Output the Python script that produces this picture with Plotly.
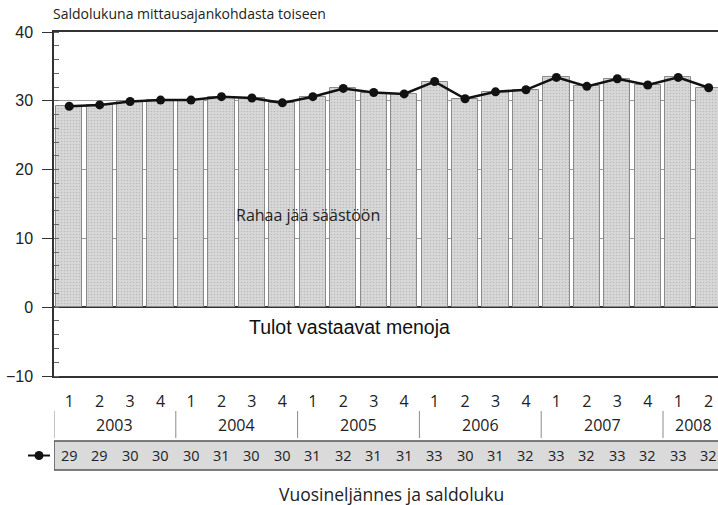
import plotly.graph_objects as go

# Quarterly balance figure (saldoluku), 2003 Q1 - 2008 Q2
quarters = ["1", "2", "3", "4"] * 5 + ["1", "2"]
years = ["2003", "2004", "2005", "2006", "2007", "2008"]
saldo = [29.2, 29.4, 29.9, 30.1, 30.1, 30.6, 30.4, 29.7, 30.6, 31.8, 31.2,
         31.0, 32.8, 30.3, 31.3, 31.6, 33.4, 32.1, 33.2, 32.3, 33.4, 31.9]
yticks = [-10, 0, 10, 20, 30, 40]

x = list(range(len(saldo)))

W, H = 718, 505
L, R, T, B = 54, 0, 32, 129
plot_h = H - T - B
plot_w = W - L - R
cat_w = 30.45
x_max = -0.5 + plot_w / cat_w

HUMAN = "Open Sans"
GROT = "Liberation Sans"
INK = "#222222"


def py(p):
    """pixel row -> paper y"""
    return (H - B - p) / plot_h


def px(p):
    """pixel column -> paper x"""
    return (p - L) / plot_w


fig = go.Figure()

fig.add_trace(go.Bar(
    x=x, y=saldo, width=0.86,
    marker=dict(
        color="#d8d8d8",
        line=dict(color="#8a8a8a", width=1),
        pattern=dict(shape=".", fillmode="overlay", fgcolor="#a0a0a0",
                     size=3, solidity=0.25),
    ),
    hoverinfo="skip",
))

fig.add_trace(go.Scatter(
    x=x, y=saldo, mode="lines+markers",
    line=dict(color="#111111", width=2.5),
    marker=dict(color="#111111", size=9),
    hoverinfo="skip",
))

shapes = []
annotations = []

# year separators below the quarter labels
bounds = [-0.5] + [3.5 + 4 * i for i in range(5)]
for b in bounds:
    shapes.append(dict(type="line", xref="x", yref="paper", x0=b, x1=b,
                       y0=py(438), y1=py(411),
                       line=dict(color="#8a8a8a", width=1)))

# year labels
for i, yr in enumerate(years):
    n = min(4, len(saldo) - 4 * i)
    cx = 4 * i + (n - 1) / 2
    annotations.append(dict(text=yr, x=cx, xref="x", y=py(425), yref="paper",
                            showarrow=False, yanchor="middle",
                            font=dict(family=HUMAN, size=16, color=INK)))

# value table strip
shapes.append(dict(type="rect", xref="x", yref="paper", x0=-0.5, x1=23,
                   y0=py(470), y1=py(441), fillcolor="#dadada",
                   line=dict(color="#555555", width=1.5), layer="below"))
for i, v in enumerate(saldo):
    annotations.append(dict(text=f"{v:.0f}", x=i, xref="x", y=py(455.5),
                            yref="paper", showarrow=False, yanchor="middle",
                            font=dict(family=HUMAN, size=14.5, color=INK)))

# legend key for the line series
shapes.append(dict(type="line", xref="paper", yref="paper",
                   x0=px(28), x1=px(50), y0=py(455.5), y1=py(455.5),
                   line=dict(color="#111111", width=2)))
shapes.append(dict(type="circle", xref="paper", yref="paper",
                   xsizemode="pixel", ysizemode="pixel",
                   xanchor=px(39), yanchor=py(455.5),
                   x0=-4.5, x1=4.5, y0=-4.5, y1=4.5,
                   fillcolor="#111111", line=dict(width=0)))

# texts
annotations += [
    dict(text="Saldolukuna mittausajankohdasta toiseen", x=px(51), y=py(14),
         xref="paper", yref="paper", xanchor="left", yanchor="middle",
         showarrow=False, font=dict(family=HUMAN, size=14, color=INK)),
    dict(text="Rahaa jää säästöön", x=px(308), y=py(215),
         xref="paper", yref="paper", xanchor="center", yanchor="middle",
         showarrow=False, font=dict(family=HUMAN, size=16, color=INK)),
    dict(text="Tulot vastaavat menoja", x=px(349), y=py(327),
         xref="paper", yref="paper", xanchor="center", yanchor="middle",
         showarrow=False, font=dict(family=GROT, size=19.5, color="#111111")),
    dict(text="Vuosineljännes ja saldoluku", x=px(391), y=py(494),
         xref="paper", yref="paper", xanchor="center", yanchor="middle",
         showarrow=False, font=dict(family=HUMAN, size=17.5, color=INK)),
]

fig.update_layout(
    width=W, height=H,
    margin=dict(l=L, r=R, t=T, b=B, pad=0),
    paper_bgcolor="white", plot_bgcolor="white",
    showlegend=False, bargap=0,
    shapes=shapes, annotations=annotations,
)

fig.update_xaxes(
    range=[-0.5, x_max], tickmode="array", tickvals=x, ticktext=quarters,
    ticks="", showgrid=False, zeroline=False,
    showline=True, mirror=True, linecolor="#333333", linewidth=1.5,
    tickfont=dict(family=HUMAN, size=16, color=INK), ticklabelstandoff=10,
)

fig.update_yaxes(
    range=[-10, 40], tickmode="array", tickvals=yticks,
    ticks="outside", ticklen=10, tickcolor="#333333", tickwidth=1,
    showgrid=True, gridcolor="#9a9a9a", gridwidth=1,
    zeroline=True, zerolinecolor="#333333", zerolinewidth=1.5,
    showline=True, linecolor="#333333", linewidth=1.5,
    tickfont=dict(family=GROT, size=16, color=INK), ticklabelstandoff=6,
    minor=dict(dtick=2, ticks="inside", ticklen=5, tickcolor="#666666",
               showgrid=False),
)

fig.write_html("out.html")
